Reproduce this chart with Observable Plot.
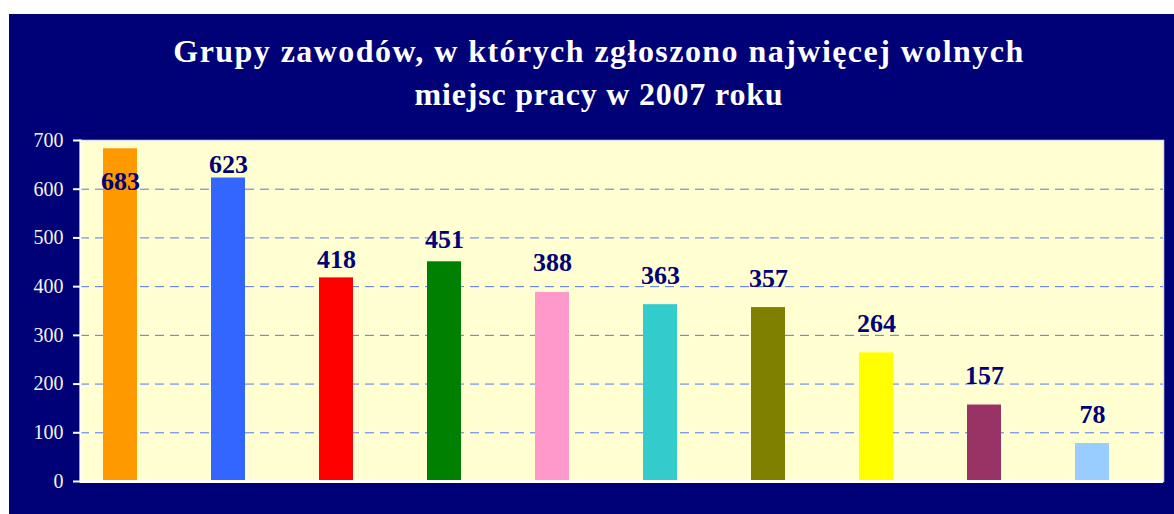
<!DOCTYPE html>
<html>
<head>
<meta charset="utf-8">
<script src="https://cdn.jsdelivr.net/npm/d3@7"></script>
<script src="https://cdn.jsdelivr.net/npm/@observablehq/plot@0.6"></script>
<style>
  html, body { margin: 0; padding: 0; background: #ffffff; }
  body { width: 1174px; height: 514px; overflow: hidden; position: relative; }
  #panel { position: absolute; left: 9px; top: 14px; width: 1165px; height: 500px; background: #000077; }
  #title { position: absolute; left: 0; top: 16px; width: 1180px; text-align: center; color: #ffffff;
    font-family: "Liberation Serif", serif; font-weight: bold; font-size: 32px; line-height: 43px; }
  #title .l1 { letter-spacing: 1.45px; }
  #title .l2 { letter-spacing: 0.8px; }
  #chart { position: absolute; left: 0; top: 111px; }
</style>
</head>
<body>
<div id="panel">
  <div id="title"><span class="l1">Grupy zawodów, w których zgłoszono najwięcej wolnych</span><br><span class="l2">miejsc pracy w 2007 roku</span></div>
  <div id="chart"></div>
</div>
<script>
const categories = ["1", "2", "3", "4", "5", "6", "7", "8", "9", "10"];
const values = [683, 623, 418, 451, 388, 363, 357, 264, 157, 78];
const colors = ["#FF9900", "#3366FF", "#FF0000", "#008000", "#FF99CC", "#33CCCC", "#808000", "#FFFF00", "#993366", "#99CCFF"];
const yTicks = [0, 100, 200, 300, 400, 500, 600, 700];
const gridTicks = [100, 200, 300, 400, 500, 600];

const data = categories.map((c, i) => ({cat: c, value: values[i], color: colors[i]}));

// label placement groups (as placed in the original chart)
const labelGroups = [
  {cats: ["1"], dy: 41},
  {cats: ["2"], dy: -5},
  {cats: ["3"], dy: -10},
  {cats: ["4"], dy: -14},
  {cats: ["5", "6", "7", "8", "9", "10"], dy: -21}
];

const W = 1165, H = 389;
const plot = Plot.plot({
  width: W,
  height: H,
  marginLeft: 71,
  marginRight: 11,
  marginTop: 15,
  marginBottom: 33,
  style: {background: "#000077", fontFamily: "Liberation Serif, serif", overflow: "visible"},
  x: {type: "band", domain: categories, range: [56.4, 1138.1], paddingInner: 0.686, paddingOuter: 0.343, axis: null},
  y: {domain: [0, 700], axis: null},
  marks: [
    Plot.frame({fill: "#FFFFD2", stroke: "#e4e4f0", strokeWidth: 1.5}),
    Plot.gridY(gridTicks, {stroke: "#5577EE", strokeOpacity: 1, strokeDasharray: "9,6", strokeWidth: 1}),
    Plot.barY(data, {x: "cat", y: "value", fill: "color"}),
    ...labelGroups.map(g => Plot.text(data.filter(d => g.cats.includes(d.cat)), {
      x: "cat", y: "value", text: d => String(d.value),
      fill: "#000077", fontSize: 26, fontWeight: "bold", lineAnchor: "bottom", dy: g.dy
    })),
    Plot.axisY(yTicks, {anchor: "left", tickSize: 7, tickPadding: 10, stroke: "#ffffff", strokeWidth: 2,
      color: "#f4f4f4", fill: "#f4f4f4", fontSize: 20, label: null}),
    Plot.frame({anchor: "left", stroke: "#ffffff", strokeWidth: 2}),
    Plot.ruleY([0], {stroke: "#ffffff", strokeWidth: 3})
  ]
});
document.getElementById("chart").appendChild(plot);
</script>
</body>
</html>
